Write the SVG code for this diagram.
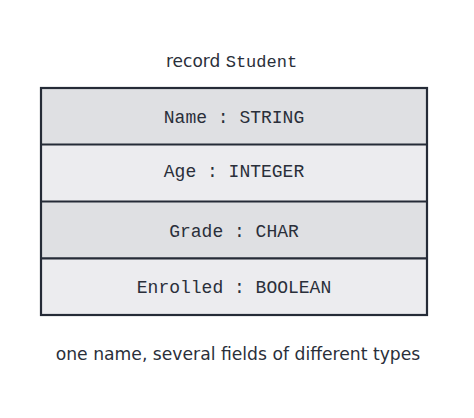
<svg xmlns="http://www.w3.org/2000/svg" width="474" height="418" viewBox="0 0 474 418">
  <style>
    .bg { fill: #ffffff; }
    .rowA { fill: #dfe0e3; }
    .rowB { fill: #ececef; }
    .line { stroke: #252b37; stroke-width: 2.2; fill: none; }
    .mono { font-family: "Liberation Mono", "DejaVu Sans Mono", monospace; fill: #2a2f3a; }
    .sans { font-family: "DejaVu Sans", "Liberation Sans", sans-serif; fill: #2a2f3a; }
    .field { font-size: 18px; text-anchor: middle; }
  </style>
  <rect class="bg" x="0" y="0" width="474" height="418"/>

  <g id="title">
    <text x="166" y="66.7" font-size="17"><tspan class="sans">record </tspan><tspan class="mono">Student</tspan></text>
  </g>

  <g id="record-Student">
    <g id="field-Name">
      <rect class="rowA" x="41" y="88" width="386" height="56.5"/>
      <text class="mono field" x="234" y="123">Name : STRING</text>
    </g>
    <g id="field-Age">
      <rect class="rowB" x="41" y="144.5" width="386" height="57"/>
      <text class="mono field" x="234" y="176.8">Age : INTEGER</text>
    </g>
    <g id="field-Grade">
      <rect class="rowA" x="41" y="201.5" width="386" height="56.8"/>
      <text class="mono field" x="234" y="236.7">Grade : CHAR</text>
    </g>
    <g id="field-Enrolled">
      <rect class="rowB" x="41" y="258.3" width="386" height="56.7"/>
      <text class="mono field" x="234" y="292.7">Enrolled : BOOLEAN</text>
    </g>
    <rect class="line" x="41" y="88" width="386" height="227"/>
    <line class="line" x1="41" y1="144.5" x2="427" y2="144.5"/>
    <line class="line" x1="41" y1="201.5" x2="427" y2="201.5"/>
    <line class="line" x1="41" y1="258.3" x2="427" y2="258.3"/>
  </g>

  <g id="connectors"></g>

  <g id="caption">
    <text class="sans" x="238" y="360" font-size="17.2" text-anchor="middle">one name, several fields of different types</text>
  </g>
</svg>
